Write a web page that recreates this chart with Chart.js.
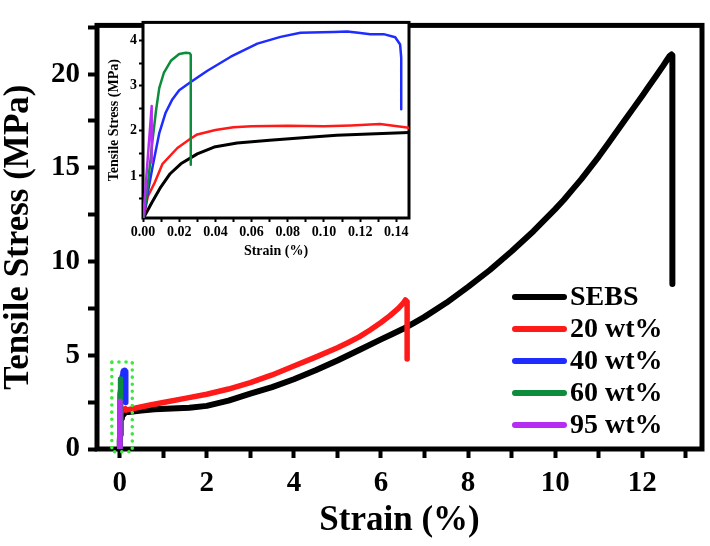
<!DOCTYPE html>
<html>
<head>
<meta charset="utf-8">
<script src="https://cdn.jsdelivr.net/npm/chart.js@4.4.0/dist/chart.umd.min.js"></script>
<style>
  body { margin: 0; background: #fff; }
  #wrap { position: relative; width: 710px; height: 546px; }
  #main { position: absolute; left: 0; top: 0; }
  #inset { position: absolute; left: 62px; top: 12px; }
</style>
</head>
<body>
<div id="wrap">
  <canvas id="main" width="710" height="546"></canvas>
  <canvas id="inset" width="356" height="252"></canvas>
</div>
<script>
// stress-strain curves, strain in %, stress in MPa
const seriesNames = ["SEBS", "20 wt%", "40 wt%", "60 wt%", "95 wt%"];
const seriesColors = ["#000000", "#ff1a1a", "#1f2cff", "#0c8c3c", "#b62cf2"];

const sebsStrain = [0, 0.0007, 0.005, 0.0099, 0.015, 0.0209, 0.03, 0.0393, 0.052, 0.07, 0.09, 0.107, 0.125, 0.147,
  0.2, 0.3, 0.5, 0.8, 1.2, 1.6, 2.0, 2.5, 3.0, 3.5, 4.0, 4.5, 5.0, 5.5, 6.0, 6.25, 6.5, 6.75, 7.0, 7.5, 8.0, 8.5,
  9.0, 9.5, 10.0, 10.2, 10.4, 10.6, 10.8, 11.0, 11.2, 11.4, 11.6, 11.8, 12.0, 12.15, 12.3, 12.45, 12.55, 12.62,
  12.67, 12.69, 12.69];
const sebsStress = [0, 0.1, 0.42, 0.76, 1.05, 1.27, 1.49, 1.64, 1.73, 1.79, 1.85, 1.9, 1.93, 1.96,
  1.98, 2.0, 2.05, 2.12, 2.16, 2.2, 2.3, 2.58, 2.95, 3.3, 3.72, 4.2, 4.72, 5.28, 5.85, 6.12, 6.4, 6.72, 7.05, 7.8, 8.65, 9.55,
  10.55, 11.62, 12.8, 13.3, 13.85, 14.4, 15.0, 15.6, 16.25, 16.9, 17.55, 18.2, 18.85, 19.35, 19.85, 20.35, 20.7, 20.95,
  21.05, 21.0, 8.8];

const pct20Strain = [0, 0.0026, 0.0062, 0.0108, 0.019, 0.0264, 0.03, 0.04, 0.05, 0.06, 0.08, 0.1, 0.115, 0.131, 0.147,
  0.2, 0.4, 0.7, 1.0, 1.5, 2.0, 2.5, 3.0, 3.5, 4.0, 4.5, 5.0, 5.25, 5.5, 5.75, 6.0, 6.2, 6.4, 6.5, 6.56, 6.6, 6.6];
const pct20Stress = [0, 0.54, 0.83, 1.27, 1.62, 1.83, 1.92, 2.02, 2.08, 2.1, 2.11, 2.1, 2.12, 2.15, 2.07,
  2.1, 2.2, 2.35, 2.48, 2.7, 2.92, 3.2, 3.54, 3.95, 4.43, 4.9, 5.4, 5.68, 5.98, 6.35, 6.75, 7.1, 7.5, 7.75, 7.95, 7.85, 4.8];

const pct40Strain = [0, 0.0025, 0.0055, 0.009, 0.0125, 0.016, 0.02, 0.0264, 0.0356, 0.0485, 0.0632, 0.076, 0.087,
  0.099, 0.1054, 0.1128, 0.119, 0.1256, 0.133, 0.1394, 0.1421, 0.1427, 0.1427];
const pct40Stress = [0, 0.6, 1.25, 1.95, 2.4, 2.68, 2.9, 3.08, 3.33, 3.64, 3.93, 4.08, 4.17,
  4.18, 4.19, 4.2, 4.17, 4.14, 4.14, 4.07, 3.91, 3.62, 2.48];

const pct60Strain = [0, 0.0025, 0.0053, 0.0072, 0.009, 0.0115, 0.0154, 0.02, 0.0237, 0.0258, 0.0264, 0.0264];
const pct60Stress = [0, 0.75, 1.8, 2.45, 2.95, 3.28, 3.55, 3.7, 3.73, 3.72, 3.68, 1.25];

const pct95Strain = [0, 0.0048, 0.0048];
const pct95Stress = [0, 2.55, 1.3];

const mainXTicks = { min: -0.52, max: 13.37, step: 1 };
const mainYTicks = { min: 0, max: 22.6, step: 2.5 };
const insetXTicks = { min: 0, max: 0.147, step: 0.01 };
const insetYTicks = { min: 0.07, max: 4.4, step: 0.5 };

// dotted box marking the zoomed region
const boxStrain = [-0.18, 0.29];
const boxStress = [-0.15, 4.64];

const allStrain = [sebsStrain, pct20Strain, pct40Strain, pct60Strain, pct95Strain];
const allStress = [sebsStress, pct20Stress, pct40Stress, pct60Stress, pct95Stress];

const serif = "'Liberation Serif', 'Times New Roman', serif";

function makeSets(width) {
  return seriesNames.map((name, i) => ({
    label: name,
    data: allStrain[i].map((x, k) => ({ x: x, y: allStress[i][k] })),
    borderColor: seriesColors[i],
    backgroundColor: seriesColors[i],
    borderWidth: i === 0 ? width + 0.5 : width,
    pointRadius: 0,
    tension: 0,
    borderJoinStyle: "round",
    borderCapStyle: "round",
    order: 5 - i,
  }));
}

const framePlugin = {
  id: "frame",
  beforeDraw(chart, args, opts) {
    if (!opts.fill) return;
    const { ctx, chartArea: a } = chart;
    ctx.save();
    ctx.fillStyle = "#fff";
    ctx.fillRect(a.left, a.top, a.right - a.left, a.bottom - a.top);
    ctx.restore();
  },
  beforeDatasetsDraw(chart, args, opts) {
    const { ctx, chartArea: a } = chart;
    ctx.save();
    ctx.strokeStyle = "#000";
    ctx.lineWidth = opts.width;
    ctx.strokeRect(a.left, a.top, a.right - a.left, a.bottom - a.top);
    ctx.restore();
  },
};

const zoomBoxPlugin = {
  id: "zoomBox",
  afterDatasetsDraw(chart) {
    const { ctx, scales } = chart;
    const l = scales.x.getPixelForValue(boxStrain[0]);
    const r = scales.x.getPixelForValue(boxStrain[1]);
    const t = scales.y.getPixelForValue(boxStress[1]);
    const b = scales.y.getPixelForValue(boxStress[0]);
    ctx.save();
    ctx.strokeStyle = "#3be83b";
    ctx.lineWidth = 3.5;
    ctx.lineCap = "round";
    ctx.setLineDash([0.1, 7]);
    ctx.strokeRect(l, t, r - l, b - t);
    ctx.restore();
  },
};

const legendPlugin = {
  id: "insideLegend",
  afterDraw(chart) {
    const ctx = chart.ctx;
    ctx.save();
    chart.data.datasets.forEach((ds, i) => {
      const y = 297 + i * 32;
      ctx.strokeStyle = ds.borderColor;
      ctx.lineWidth = 6;
      ctx.lineCap = "round";
      ctx.beginPath();
      ctx.moveTo(515, y);
      ctx.lineTo(564, y);
      ctx.stroke();
      ctx.fillStyle = "#000";
      ctx.font = "bold 28px " + serif;
      ctx.textBaseline = "middle";
      ctx.fillText(ds.label, 570, y + 1);
    });
    ctx.restore();
  },
};

const bigFont = { family: serif, size: 29, weight: "bold" };
const titleFont = { family: serif, size: 35, weight: "bold", lineHeight: 1 };

new Chart(document.getElementById("main"), {
  type: "line",
  data: { datasets: makeSets(5.5) },
  options: {
    responsive: false,
    animation: false,
    layout: { padding: { top: 6, right: 8, left: 0, bottom: 0 } },
    plugins: {
      legend: { display: false },
      tooltip: { enabled: false },
      frame: { width: 5 },
    },
    scales: {
      x: {
        type: "linear",
        min: mainXTicks.min,
        max: mainXTicks.max,
        afterFit: (s) => { s.height = 97; },
        grid: { drawOnChartArea: false, tickLength: 9, tickWidth: 4, tickColor: "#000" },
        border: { display: false },
        ticks: {
          stepSize: mainXTicks.step,
          includeBounds: false,
          autoSkip: false,
          maxRotation: 0,
          padding: 8,
          color: "#000",
          font: bigFont,
          callback: (v) => (v % 2 === 0 ? v : ""),
        },
        title: { display: true, text: "Strain (%)", color: "#000", font: titleFont, padding: { top: 8, bottom: 8 } },
      },
      y: {
        type: "linear",
        min: mainYTicks.min,
        max: mainYTicks.max,
        afterFit: (s) => { s.width = 97; },
        grid: { drawOnChartArea: false, tickLength: 9, tickWidth: 4, tickColor: "#000" },
        border: { display: false },
        ticks: {
          stepSize: mainYTicks.step,
          includeBounds: false,
          autoSkip: false,
          padding: 8,
          color: "#000",
          font: bigFont,
          callback: (v) => (v % 5 === 0 ? v : ""),
        },
        title: { display: true, text: "Tensile Stress (MPa)", color: "#000", font: titleFont, padding: { top: 1, bottom: 2 } },
      },
    },
  },
  plugins: [framePlugin, zoomBoxPlugin, legendPlugin],
});

const smallFont = { family: serif, size: 14, weight: "bold" };

new Chart(document.getElementById("inset"), {
  type: "line",
  data: { datasets: makeSets(2.5) },
  options: {
    responsive: false,
    animation: false,
    layout: { padding: { top: 9, right: 9, left: 0, bottom: 0 } },
    plugins: {
      legend: { display: false },
      tooltip: { enabled: false },
      frame: { width: 3, fill: true },
    },
    scales: {
      x: {
        type: "linear",
        min: insetXTicks.min,
        max: insetXTicks.max,
        afterFit: (s) => { s.height = 46; },
        grid: { drawOnChartArea: false, tickLength: 4, tickWidth: 2, tickColor: "#000" },
        border: { display: false },
        ticks: {
          stepSize: insetXTicks.step,
          includeBounds: false,
          autoSkip: false,
          maxRotation: 0,
          padding: 2,
          color: "#000",
          font: smallFont,
          callback: (v) => (Math.round(v * 100) % 2 === 0 ? v.toFixed(2) : ""),
        },
        title: { display: true, text: "Strain (%)", color: "#000", font: smallFont, padding: { top: 2, bottom: 4 } },
      },
      y: {
        type: "linear",
        min: insetYTicks.min,
        max: insetYTicks.max,
        afterFit: (s) => { s.width = 81; },
        grid: { drawOnChartArea: false, tickLength: 4, tickWidth: 2, tickColor: "#000" },
        border: { display: false },
        ticks: {
          stepSize: insetYTicks.step,
          includeBounds: false,
          autoSkip: false,
          padding: 2,
          color: "#000",
          font: smallFont,
          callback: (v) => (Number.isInteger(v) ? v : ""),
        },
        title: { display: true, text: "Tensile Stress (MPa)", color: "#000", font: smallFont, padding: { top: 44, bottom: 2 } },
      },
    },
  },
  plugins: [framePlugin],
});
</script>
</body>
</html>
